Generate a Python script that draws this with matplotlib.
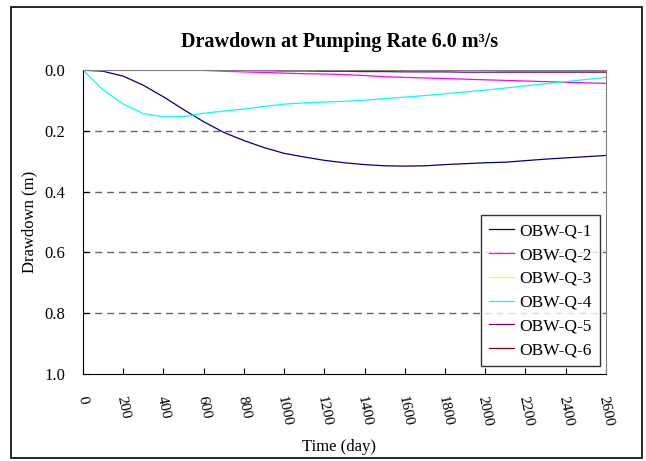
import matplotlib
matplotlib.use("Agg")
import matplotlib.pyplot as plt
from matplotlib.patches import Rectangle

# time axis (days) and drawdown (m)
days = [0, 100, 200, 300, 400, 500, 600, 700, 800, 900, 1000, 1100, 1200, 1300,
        1400, 1500, 1600, 1700, 1800, 1900, 2000, 2100, 2200, 2300, 2400, 2500, 2600]

q1 = [0, 0.004, 0.02, 0.05, 0.088, 0.13, 0.17, 0.205, 0.232, 0.255, 0.274, 0.286, 0.297, 0.305,
      0.311, 0.315, 0.316, 0.315, 0.311, 0.308, 0.305, 0.303, 0.298, 0.293, 0.289, 0.285, 0.281]
q2 = [0, 0, 0, 0, 0, 0, 0.001, 0.004, 0.006, 0.008, 0.01, 0.012, 0.013, 0.015,
      0.018, 0.022, 0.024, 0.026, 0.028, 0.03, 0.032, 0.034, 0.036, 0.038, 0.04, 0.042, 0.044]
q3 = [0] * 27
q4 = [0, 0.065, 0.112, 0.143, 0.154, 0.153, 0.142, 0.135, 0.128, 0.12, 0.112, 0.108, 0.105, 0.103,
      0.099, 0.094, 0.089, 0.084, 0.078, 0.072, 0.066, 0.059, 0.052, 0.045, 0.038, 0.031, 0.024]
q5 = [0, 0, 0, 0, 0, 0, 0, 0, 0.001, 0.002, 0.003, 0.003, 0.004, 0.004,
      0.005, 0.005, 0.006, 0.006, 0.006, 0.007, 0.007, 0.007, 0.007, 0.007, 0.007, 0.007, 0.007]
q6 = [0, 0, 0, 0, 0, 0, 0, 0, 0, 0, 0, 0, 0, 0,
      0, 0, 0, 0, 0, 0.001, 0.001, 0.002, 0.002, 0.002, 0.002, 0.002, 0.002]

series = [q1, q2, q3, q4, q5, q6]
labels = ["OBW-Q-1", "OBW-Q-2", "OBW-Q-3", "OBW-Q-4", "OBW-Q-5", "OBW-Q-6"]
colors = ["#000080", "#FF00FF", "#FFFF00", "#00FFFF", "#800080", "#800000"]

xticks = list(range(0, 2601, 200))
yticks = [0.0, 0.2, 0.4, 0.6, 0.8, 1.0]

plt.rcParams["font.family"] = ["Liberation Serif", "DejaVu Serif"]

fig = plt.figure(figsize=(6.46, 4.61), dpi=100)
ax = fig.add_axes([0.1285, 0.1887, 0.8095, 0.6593])

for vals, lab, col in zip(series, labels, colors):
    ax.plot(days, vals, color=col, lw=0.9, label=lab)

ax.set_xlim(0, 2600)
ax.set_ylim(1.0, 0.0)
ax.set_xticks(xticks)
ax.set_xticklabels([str(t) for t in xticks], rotation=-78, ha="center", va="top", fontsize=11)
ax.set_yticks(yticks)
ax.set_yticklabels(["%.1f" % t for t in yticks], fontsize=12)
ax.tick_params(axis="x", direction="in", length=4, pad=15)
ax.tick_params(axis="y", direction="in", length=4, pad=13)

for y in yticks[1:-1]:
    ax.axhline(y, color="#666666", lw=1.0, ls=(0, (5, 3.5)), zorder=0)

ax.spines["top"].set_color("#808080")
ax.spines["right"].set_color("#808080")

ax.set_xlabel("Time (day)", fontsize=12)
ax.xaxis.set_label_coords(0.49, -0.214)
ax.set_ylabel("Drawdown (m)", fontsize=12)
ax.yaxis.set_label_coords(-0.088, 0.5)

fig.text(0.525, 0.909, "Drawdown at Pumping Rate 6.0 m\u00b3/s", ha="center", va="center",
         fontsize=14.5, fontweight="bold")

leg = ax.legend(loc="lower right", bbox_to_anchor=(0.9885, 0.026), borderaxespad=0,
                fontsize=12.5, frameon=True, fancybox=False, edgecolor="black",
                handlelength=1.45, handletextpad=0.3, labelspacing=0.44, borderpad=0.45)
leg.get_frame().set_linewidth(1.0)

fig.patches.append(Rectangle((0.017, 0.0065), 0.977, 0.978, transform=fig.transFigure,
                             fill=False, edgecolor="black", lw=1.2))

plt.savefig("out.png", dpi=100)
